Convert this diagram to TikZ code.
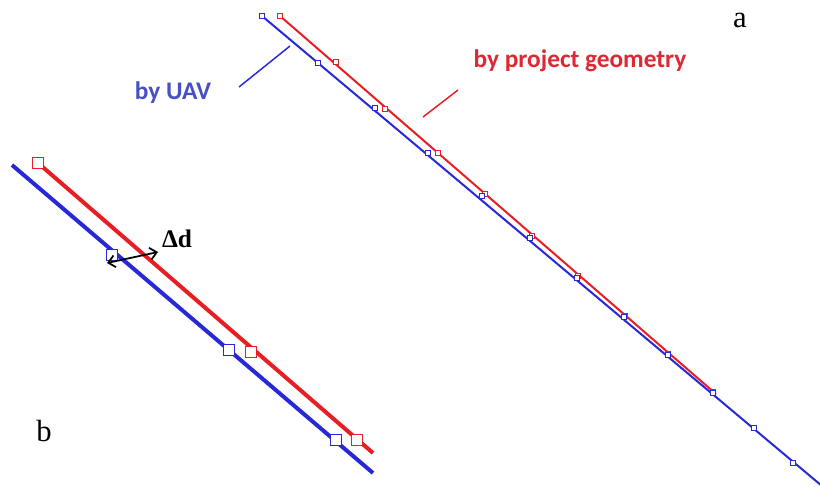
\documentclass[tikz,border=0pt]{standalone}
\usepackage[no-math]{fontspec}
\newfontfamily\calib{Carlito}
\newfontfamily\tnr{Liberation Serif}
\definecolor{uavblue}{RGB}{40,40,215}
\definecolor{prjred}{RGB}{232,30,36}
\definecolor{uavtext}{RGB}{70,80,195}
\definecolor{prjtext}{RGB}{222,40,52}
\usetikzlibrary{arrows.meta}
\begin{document}
\begin{tikzpicture}[x=0.75pt,y=-0.75pt,
  lineA/.style={line width=1.5pt},
  lineB/.style={line width=3pt},
  mkA/.style={draw,fill=white,line width=0.6pt,inner sep=0pt,minimum size=4.2pt,rectangle},
  mkB/.style={draw,fill=white,line width=0.9pt,inner sep=0pt,minimum size=8pt,rectangle},
  ptr/.style={line width=1.1pt},
  lbl/.style={font=\calib\bfseries\fontsize{19}{22}\selectfont,inner sep=0pt},
  letter/.style={font=\tnr\fontsize{23}{26}\selectfont,inner sep=0pt}]
\useasboundingbox[fill=white] (0,0) rectangle (820,486);
% ---------- panel a ----------
\coordinate (ra0) at (280,16);
\coordinate (raE) at (716,394);
\coordinate (ba0) at (262,16);
\coordinate (baE) at (822,486);
\draw[lineA,prjred] (ra0) -- (raE);
\foreach \i/\p in {1/{280,16},2/{336,62},3/{385,109},4/{438,153},5/{485,194},6/{532,236},7/{578,276},8/{625,316},9/{668,354},10/{713,392}}
  \node[mkA,draw=prjred] (rm\i) at (\p) {};
\draw[lineA,uavblue] (ba0) -- (baE);
\foreach \i/\p in {1/{262,16},2/{318,63},3/{375,108},4/{428,153},5/{482,196},6/{530,238},7/{577,278},8/{624,317},9/{668,355},10/{713,393},11/{754,428},12/{793,463}}
  \node[mkA,draw=uavblue] (bm\i) at (\p) {};
% pointers and labels
\coordinate (pu1) at (290,46);
\coordinate (pu2) at (239,87);
\draw[ptr,uavblue] (pu1) -- (pu2);
\coordinate (pr1) at (458,90);
\coordinate (pr2) at (423,117);
\draw[ptr,prjred] (pr1) -- (pr2);
\node[lbl,text=uavtext] (luav) at (173,93) {by UAV};
\node[lbl,text=prjtext] (lprj) at (580,61) {by project geometry};
\node[letter] (la) at (740,20) {a};
% ---------- panel b ----------
\coordinate (rb0) at (38,163);
\coordinate (rbE) at (373,453);
\coordinate (bb0) at (12,165);
\coordinate (bbE) at (373,473);
\draw[lineB,prjred] (rb0) -- (rbE);
\draw[lineB,uavblue] (bb0) -- (bbE);
\node[mkB,draw=prjred] (rn1) at (38,163) {};
\node[mkB,draw=prjred] (rn2) at (251,352) {};
\node[mkB,draw=prjred] (rn3) at (357,440) {};
\node[mkB,draw=uavblue] (bn1) at (112,255) {};
\node[mkB,draw=uavblue] (bn2) at (229,350) {};
\node[mkB,draw=uavblue] (bn3) at (336,440) {};
\coordinate (dA) at (107,263);
\coordinate (dB) at (158,252);
\draw[line width=1.3pt,{Straight Barb[length=5pt,width=9pt]}-{Straight Barb[length=5pt,width=9pt]}] (dA) -- (dB);
\node[font=\tnr\bfseries\fontsize{19}{22}\selectfont,inner sep=0pt] (ld) at (177,239) {Δd};
\node[letter] (lb) at (44,431) {b};
\end{tikzpicture}
\end{document}
